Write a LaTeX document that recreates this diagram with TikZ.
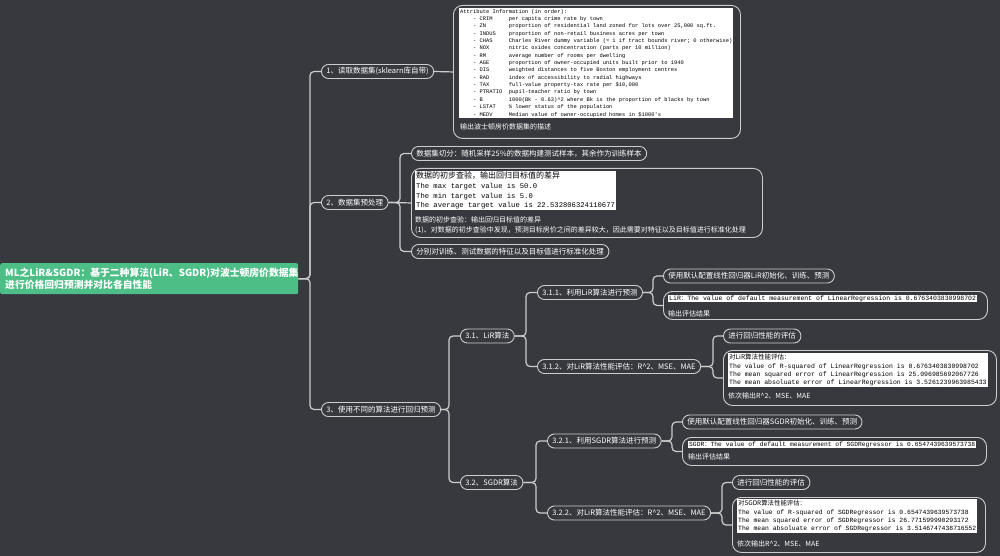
\documentclass[tikz,border=0pt]{standalone}
\usepackage{fontspec}
\setmainfont{Noto Sans CJK SC}
\setmonofont{Liberation Mono}
\newfontfamily\cjkfont{Noto Sans CJK SC}
\usetikzlibrary{positioning, calc}
\usepackage{xcolor}

\definecolor{mapbg}{RGB}{55,57,62}
\definecolor{rootgreen}{RGB}{76,190,134}
\definecolor{linkgray}{RGB}{205,205,207}

% one row of the attribute list
\newcommand{\attrrow}[2]{\hspace*{2.4em}\makebox[6.6em][l]{- #1}#2}

\begin{document}
\begin{tikzpicture}[
    x=1pt, y=-1pt,
    link/.style={draw=linkgray, line width=1.2pt, rounded corners=4pt},
    topic/.style={draw=linkgray, line width=0.9pt, rounded corners=7pt, text=white, font=\fontsize{7.5}{8}\selectfont, inner xsep=5pt, inner ysep=0pt, minimum height=14pt, anchor=west},
    root/.style={fill=rootgreen, rounded corners=2pt, text=white, font=\fontsize{9.8}{11.5}\selectfont\bfseries, align=left, text width=288pt, inner xsep=5pt, inner ysep=3pt, minimum height=31pt, anchor=north west},
    card/.style={draw=linkgray, line width=0.9pt, rounded corners=9pt, inner sep=0pt, anchor=north west},
    shot/.style={fill=white, text=black, inner sep=1pt, align=left, anchor=north west},
    note/.style={text=white, font=\fontsize{7}{10}\selectfont, inner sep=0pt, align=left}
]
    \fill[mapbg] (0,0) rectangle (1000,556);

    % Root
    \node[root] (root) at (0,263) {ML之LiR\&SGDR：基于二种算法(LiR、SGDR)对波士顿房价数据集\\进行价格回归预测并对比各自性能};

    % Main topics
    \node[topic] (n1) at (321,71.5) {1、读取数据集(sklearn库自带)};
    \node[topic] (n2) at (321,202.5) {2、数据集预处理};
    \node[topic] (n3) at (321,409.5) {3、使用不同的算法进行回归预测};

    % 1: dataset description
    \node[card, minimum width=287pt, minimum height=133pt] (d1) at (453,5) {};
    \node[shot, font=\fontsize{5.4}{7.35}\selectfont\ttfamily] (s1) at (459,8) {Attribute Information (in order):\\
        \attrrow{CRIM}{per capita crime rate by town}\\
        \attrrow{ZN}{proportion of residential land zoned for lots over 25,000 sq.ft.}\\
        \attrrow{INDUS}{proportion of non-retail business acres per town}\\
        \attrrow{CHAS}{Charles River dummy variable (= 1 if tract bounds river; 0 otherwise)}\\
        \attrrow{NOX}{nitric oxides concentration (parts per 10 million)}\\
        \attrrow{RM}{average number of rooms per dwelling}\\
        \attrrow{AGE}{proportion of owner-occupied units built prior to 1940}\\
        \attrrow{DIS}{weighted distances to five Boston employment centres}\\
        \attrrow{RAD}{index of accessibility to radial highways}\\
        \attrrow{TAX}{full-value property-tax rate per \$10,000}\\
        \attrrow{PTRATIO}{pupil-teacher ratio by town}\\
        \attrrow{B}{1000(Bk - 0.63)\textasciicircum 2 where Bk is the proportion of blacks by town}\\
        \attrrow{LSTAT}{\% lower status of the population}\\
        \attrrow{MEDV}{Median value of owner-occupied homes in \$1000's}};
    \node[note] (c1) [below=5pt of s1.south west, anchor=north west, xshift=1pt] {输出波士顿房价数据集的描述};

    % 2: preprocessing
    \node[topic] (n2a) at (411,153.5) {数据集切分：随机采样25\%的数据构建测试样本，其余作为训练样本};
    \node[card, minimum width=351pt, minimum height=69pt] (d2) at (411,168) {};
    \node[shot, font=\fontsize{7.2}{9.6}\selectfont\ttfamily] (s2) at (415,171) {{\cjkfont\fontsize{8}{9.6}\selectfont 数据的初步查验，输出回归目标值的差异}\\
        The max target value is 50.0\\
        The min target value is 5.0\\
        The average target value is 22.532806324110677};
    \node[note] (c2) [below=6pt of s2.south west, anchor=north west] {数据的初步查验：输出回归目标值的差异\\(1)、对数据的初步查验中发现，预测目标房价之间的差异较大，因此需要对特征以及目标值进行标准化处理};
    \node[topic] (n2c) at (411,251.5) {分别对训练、测试数据的特征以及目标值进行标准化处理};

    % 3: algorithms
    \node[topic] (n31) at (460,336) {3.1、LiR算法};
    \node[topic] (n32) at (460,482.5) {3.2、SGDR算法};

    % 3.1 LiR
    \node[topic] (n311) at (537,292.5) {3.1.1、利用LiR算法进行预测};
    \node[topic] (n312) at (537,366.5) {3.1.2、对LiR算法性能评估：R\textasciicircum{}2、MSE、MAE};
    \node[topic] (n311a) at (663,276) {使用默认配置线性回归器LiR初始化、训练、预测};
    \node[card, minimum width=324pt, minimum height=28pt] (d311) at (663,291) {};
    \node[shot, font=\fontsize{6.5}{7}\selectfont\ttfamily, inner ysep=0.3pt] (s311) at (668,295) {LiR{\cjkfont ：}The value of default measurement of LinearRegression is 0.6763403830998702};
    \node[note] (c311) [below=8pt of s311.south west, anchor=north west] {输出评估结果};
    \node[topic] (n312a) at (723,336) {进行回归性能的评估};
    \node[card, minimum width=273pt, minimum height=55pt] (d312) at (723,350) {};
    \node[shot, font=\fontsize{6.5}{8.4}\selectfont\ttfamily] (s312) at (728,353) {{\cjkfont 对LiR算法性能评估：}\\
        The value of R-squared of LinearRegression is 0.6763403830998702\\
        The mean squared error of LinearRegression is 25.096985692067726\\
        The mean absoluate error of LinearRegression is 3.5261239963985433};
    \node[note] (c312) [below=5pt of s312.south west, anchor=north west] {依次输出R\textasciicircum{}2、MSE、MAE};

    % 3.2 SGDR
    \node[topic] (n321) at (547,441) {3.2.1、利用SGDR算法进行预测};
    \node[topic] (n322) at (547,513) {3.2.2、对LiR算法性能评估：R\textasciicircum{}2、MSE、MAE};
    \node[topic] (n321a) at (682,422) {使用默认配置线性回归器SGDR初始化、训练、预测};
    \node[card, minimum width=304pt, minimum height=28pt] (d321) at (682,437) {};
    \node[shot, font=\fontsize{6.3}{7}\selectfont\ttfamily, inner ysep=0.3pt] (s321) at (688,441) {SGDR{\cjkfont ：}The value of default measurement of SGDRegressor is 0.6547439639573738};
    \node[note] (c321) [below=6pt of s321.south west, anchor=north west] {输出评估结果};
    \node[topic] (n322a) at (732,482.5) {进行回归性能的评估};
    \node[card, minimum width=253pt, minimum height=55pt] (d322) at (732,497) {};
    \node[shot, font=\fontsize{6.4}{8.4}\selectfont\ttfamily] (s322) at (737,499) {{\cjkfont 对SGDR算法性能评估：}\\
        The value of R-squared of SGDRegressor is 0.6547439639573738\\
        The mean squared error of SGDRegressor is 26.771599990293172\\
        The mean absoluate error of SGDRegressor is 3.5146747438716552};
    \node[note] (c322) [below=7pt of s322.south west, anchor=north west] {依次输出R\textasciicircum{}2、MSE、MAE};

    % Connectors
    \draw[link] (root.east) -| ([xshift=-11pt]n1.west) -- (n1.west);
    \draw[link] (root.east) -| ([xshift=-11pt]n2.west) -- (n2.west);
    \draw[link] (root.east) -| ([xshift=-11pt]n3.west) -- (n3.west);
    \draw[link] (n1.east) -- (d1.west);
    \draw[link] (n2.east) -| ([xshift=-11pt]n2a.west) -- (n2a.west);
    \draw[link] (n2.east) -- (d2.west);
    \draw[link] (n2.east) -| ([xshift=-11pt]n2c.west) -- (n2c.west);
    \draw[link] (n3.east) -| ([xshift=-11pt]n31.west) -- (n31.west);
    \draw[link] (n3.east) -| ([xshift=-11pt]n32.west) -- (n32.west);
    \draw[link] (n31.east) -| ([xshift=-11pt]n311.west) -- (n311.west);
    \draw[link] (n31.east) -| ([xshift=-11pt]n312.west) -- (n312.west);
    \draw[link] (n311.east) -| ([xshift=-10pt]n311a.west) -- (n311a.west);
    \draw[link] (n311.east) -| ([xshift=-10pt]d311.west) -- (d311.west);
    \draw[link] (n312.east) -| ([xshift=-10pt]n312a.west) -- (n312a.west);
    \draw[link] (n312.east) -| ([xshift=-10pt]d312.west) -- (d312.west);
    \draw[link] (n32.east) -| ([xshift=-11pt]n321.west) -- (n321.west);
    \draw[link] (n32.east) -| ([xshift=-11pt]n322.west) -- (n322.west);
    \draw[link] (n321.east) -| ([xshift=-10pt]n321a.west) -- (n321a.west);
    \draw[link] (n321.east) -| ([xshift=-10pt]d321.west) -- (d321.west);
    \draw[link] (n322.east) -| ([xshift=-10pt]n322a.west) -- (n322a.west);
    \draw[link] (n322.east) -| ([xshift=-10pt]d322.west) -- (d322.west);
\end{tikzpicture}
\end{document}
